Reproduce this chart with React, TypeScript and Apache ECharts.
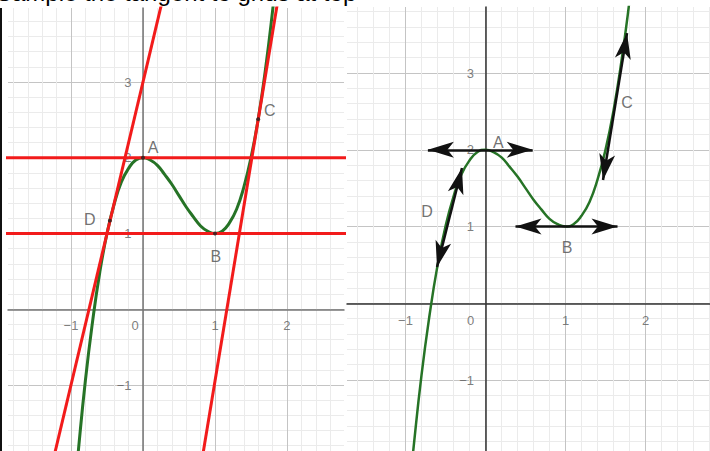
import React, { useEffect, useRef } from 'react';
import * as echarts from 'echarts';

// Curve (cubic through A(0,2) and B(1,1))
const curveX = [-0.95, -0.9, -0.8, -0.7, -0.6, -0.5, -0.4, -0.3, -0.2, -0.1, 0, 0.1, 0.2, 0.3, 0.4, 0.5, 0.6, 0.7, 0.8, 0.9, 1.0, 1.1, 1.2, 1.3, 1.4, 1.5, 1.6, 1.7, 1.8, 1.85];
const curveY = [-2.42, -1.89, -0.94, -0.16, 0.49, 1.0, 1.39, 1.68, 1.86, 1.97, 2.0, 1.97, 1.9, 1.78, 1.65, 1.5, 1.35, 1.22, 1.1, 1.03, 1.0, 1.03, 1.14, 1.32, 1.61, 2.0, 2.51, 3.16, 3.94, 4.4];

// Red lines of the left panel: [x1, y1, x2, y2]
const tangentAtD = [-1.3, -2.2, 0.3, 4.2];
const tangentAtC = [0.8, -2.1, 1.9, 4.23];
const levelAtA = [-2, 2, 3, 2];
const levelAtB = [-2, 1, 3, 1];

// Points on the curve
const pointNames = ['A', 'B', 'C', 'D'];
const pointX = [0, 1, 1.6, -0.46];
const pointY = [2, 1, 2.51, 1.17];

// Label anchors (data coords)
const leftLabelX = [0.14, 1.01, 1.76, -0.74];
const leftLabelY = [2.13, 0.69, 2.63, 1.18];
const rightLabelX = [0.16, 1.02, 1.77, -0.73];
const rightLabelY = [2.1, 0.72, 2.61, 1.19];

// Double arrows of the right panel (tip to tip): [x1, y1, x2, y2]
const arrowA = [-0.72, 2, 0.59, 2];
const arrowB = [0.375, 1, 1.65, 1];
const arrowC = [1.469, 1.606, 1.769, 3.52];
const arrowD = [-0.606, 0.472, -0.294, 1.762];

// Tick labels
const xTicks = [-1, 0, 1, 2];
const yTicks = [-1, 1, 2, 3];

const FONT = 'Liberation Sans, Arial, sans-serif';

function fmt(v: number) {
  return v < 0 ? '\u2212' + Math.abs(v) : String(v);
}

function axes(gridIndex: number, xr: number[], yr: number[], axisColor: string) {
  const common = {
    type: 'value',
    gridIndex,
    minInterval: 1,
    maxInterval: 1,
    axisTick: { show: false },
    axisLabel: { show: false },
    minorTick: { show: false, splitNumber: 5 },
    splitLine: { show: true, showMinLine: false, showMaxLine: false, lineStyle: { color: '#c4c4c4', width: 1 } },
    minorSplitLine: { show: true, lineStyle: { color: '#ebebeb', width: 1 } },
    axisLine: { show: true, onZero: true, lineStyle: { color: axisColor, width: 1.5 } },
  };
  return {
    x: { ...common, min: xr[0], max: xr[1] },
    y: { ...common, min: yr[0], max: yr[1] },
  };
}

function seg(s: number[]) {
  return [[s[0], s[1]], [s[2], s[3]]];
}

const labelText = { color: '#5c5c5c', fontSize: 13, fontFamily: FONT };

function tickSeries(gi: number, zeroShift: number, xDist: number, yDist: number) {
  return [
    {
      type: 'scatter',
      xAxisIndex: gi,
      yAxisIndex: gi,
      z: 2,
      symbolSize: 1,
      itemStyle: { color: 'rgba(0,0,0,0)' },
      silent: true,
      label: {
        show: true,
        position: 'bottom',
        distance: xDist,
        ...labelText,
        formatter: (p: any) => fmt(p.value[0]),
      },
      data: xTicks.map((v) => (v === 0 ? { value: [v, 0], label: { offset: [zeroShift, 0] } } : { value: [v, 0] })),
    },
    {
      type: 'scatter',
      xAxisIndex: gi,
      yAxisIndex: gi,
      z: 2,
      symbolSize: 1,
      itemStyle: { color: 'rgba(0,0,0,0)' },
      silent: true,
      label: {
        show: true,
        position: 'left',
        distance: yDist,
        ...labelText,
        formatter: (p: any) => fmt(p.value[1]),
      },
      data: yTicks.map((v) => ({ value: [0, v] })),
    },
  ];
}

export default function App() {
  const ref = useRef<HTMLDivElement>(null);
  useEffect(() => {
    if (!ref.current) return;
    const chart = echarts.init(ref.current, undefined, { renderer: 'svg' });
    const L = axes(0, [-1.875, 2.792], [-1.871, 3.977], '#777');
    const R = axes(1, [-1.731, 2.806], [-1.925, 3.86], '#333');
    const curve = curveX.map((x, i) => [x, curveY[i]]);
    const green = '#267326';
    const red = '#f21b1b';
    const redLine = (s: number[]) => ({
      type: 'line',
      xAxisIndex: 0,
      yAxisIndex: 0,
      data: seg(s),
      symbol: 'none',
      z: 4,
      lineStyle: { color: red, width: 3 },
      silent: true,
    });
    const labelSeries = (xi: number, xs: number[], ys: number[]) => ({
      type: 'scatter',
      xAxisIndex: xi,
      yAxisIndex: xi,
      z: 6,
      symbol: 'circle',
      symbolSize: 1,
      itemStyle: { color: 'rgba(0,0,0,0)' },
      silent: true,
      label: {
        show: true,
        position: 'inside',
        formatter: '{b}',
        color: '#4d4d4d',
        fontSize: 16,
        fontFamily: FONT,
      },
      data: pointNames.map((n, i) => ({ name: n, value: [xs[i], ys[i]] })),
    });
    chart.setOption({
      animation: false,
      backgroundColor: '#fff',
      grid: [
        { left: 8, top: 8, width: 336, height: 443, containLabel: false, outerBoundsMode: 'none' },
        { left: 347, top: 7, width: 363, height: 444, containLabel: false, outerBoundsMode: 'none' },
      ],
      xAxis: [L.x, R.x],
      yAxis: [L.y, R.y],
      graphic: [
        { type: 'rect', shape: { x: 0, y: 8, width: 2, height: 443 }, style: { fill: '#111' }, silent: true },
        {
          type: 'text',
          x: -4,
          y: 4,
          silent: true,
          style: {
            text: 'Sample the tangent to grids at top',
            fill: '#000',
            font: '24px Liberation Sans, Arial, sans-serif',
            verticalAlign: 'bottom',
          },
        },
      ],
      series: [
        ...tickSeries(0, -8, 9, 11),
        ...tickSeries(1, -15, 10, 11),
        {
          type: 'line',
          xAxisIndex: 0,
          yAxisIndex: 0,
          data: curve,
          smooth: true,
          symbol: 'none',
          z: 3,
          lineStyle: { color: green, width: 3 },
          silent: true,
        },
        redLine(levelAtA),
        redLine(levelAtB),
        redLine(tangentAtD),
        redLine(tangentAtC),
        {
          type: 'scatter',
          xAxisIndex: 0,
          yAxisIndex: 0,
          z: 5,
          symbolSize: 4,
          itemStyle: { color: '#222' },
          silent: true,
          data: pointX.map((x, i) => [x, pointY[i]]),
        },
        labelSeries(0, leftLabelX, leftLabelY),
        {
          type: 'line',
          xAxisIndex: 1,
          yAxisIndex: 1,
          data: curve,
          smooth: true,
          symbol: 'none',
          z: 3,
          lineStyle: { color: green, width: 2.5 },
          silent: true,
          markLine: {
            silent: true,
            symbol: ['arrow', 'arrow'],
            symbolSize: [12, 26],
            label: { show: false },
            emphasis: { disabled: true },
            lineStyle: { color: '#111', width: 2.5, type: 'solid' },
            data: [arrowA, arrowB, arrowC, arrowD].map((a) => [
              { coord: [a[0], a[1]] },
              { coord: [a[2], a[3]] },
            ]),
          },
        },
        labelSeries(1, rightLabelX, rightLabelY),
      ],
    });
    return () => chart.dispose();
  }, []);
  return (
    <div
      ref={ref}
      style={{ position: 'fixed', left: 0, top: 0, width: 710, height: 451, background: '#fff' }}
    />
  );
}
